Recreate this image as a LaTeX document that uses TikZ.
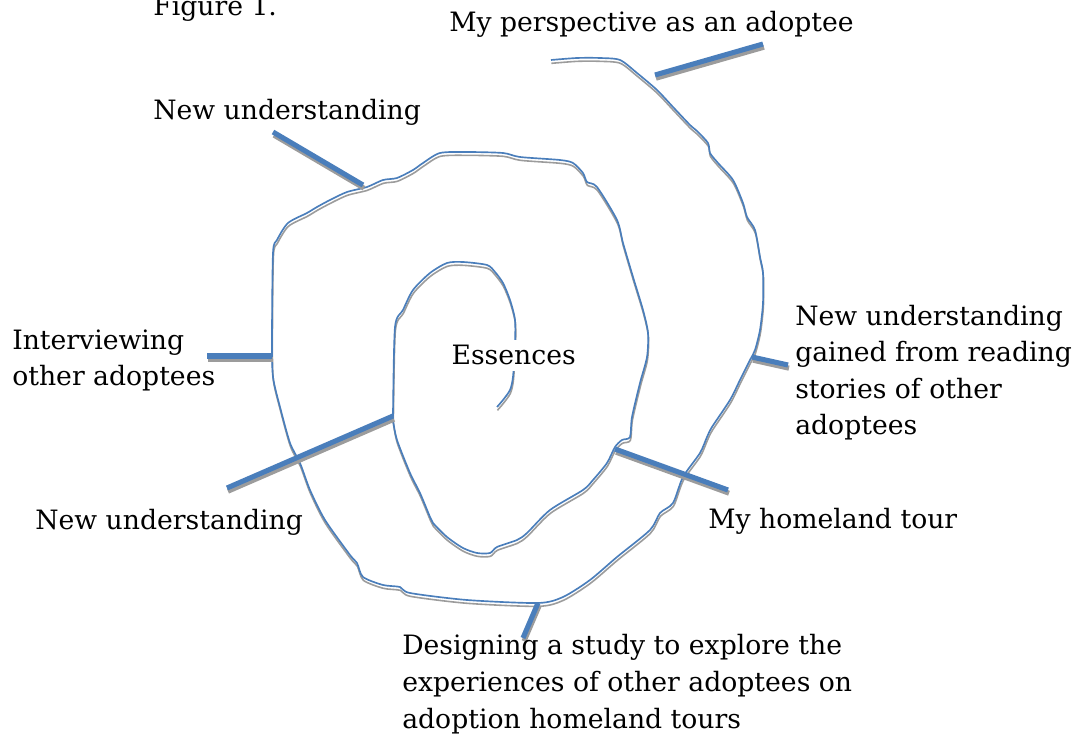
\documentclass[tikz,border=0pt]{standalone}
\usepackage{fontspec}
\setmainfont{DejaVu Serif}
\definecolor{spblue}{HTML}{4A7EBB}
\definecolor{spgray}{HTML}{9C9C9C}
\begin{document}
\begin{tikzpicture}[x=0.75pt,y=-0.75pt,
  lbl/.style={anchor=base west,inner sep=0pt,align=left,font=\fontsize{20}{27.4}\selectfont},
  spiral/.style={draw=spblue,line width=1.25pt,line join=round,
    preaction={draw=spgray,line width=1.2pt,transform canvas={xshift=0.3pt,yshift=-2.5pt}}},
  tick/.style={draw=spblue,line width=3.8pt,
    preaction={draw=spgray,line width=3.8pt,transform canvas={xshift=0.75pt,yshift=-2.4pt}}}]
\useasboundingbox (0,0) rectangle (1076,745);

% spiral
\path[spiral] plot[smooth,tension=0.45] coordinates {
(551,60) (577,58) (600,58) (620,60) (637,73) (657,90) (673,107) (690,125) (697,131) (708,143) (710,153) (718,163) (733,180) (743,203) (747,217) (755,230) (760,257) (763,273) (763,303) (760,330) (755,350) (750,360) (740,380) (730,400) (712,427) (707,437) (700,453) (683,477) (673,503) (660,513) (650,530) (617,557) (590,580) (563,597) (538,603) (467,600) (410,593) (400,587) (383,585) (363,577) (357,563) (350,555) (325,520) (310,490) (300,463) (290,443) (280,407) (273,377) (272,340) (273,253) (277,240) (288,223) (307,213) (317,207) (330,200) (347,192) (367,187) (383,180) (397,178) (413,170) (423,163) (440,153) (467,152) (503,153) (520,157) (560,160) (573,163) (583,173) (587,182) (597,187) (617,220) (623,243) (633,277) (643,310) (648,333) (647,357) (640,383) (632,417) (630,437) (622,440) (615,447) (607,463) (593,480) (583,490) (550,510) (527,533) (517,540) (497,547) (490,553) (477,553) (463,548) (447,537) (433,523) (430,517) (420,493) (410,473) (397,440) (393,420) (393,413) (395,327) (403,310) (413,290) (430,273) (447,263) (463,262) (487,265) (495,272) (503,283) (510,300) (515,320) (515,345) (513,377) (510,390) (503,400) (497,407)};

% centre label
\node[lbl,fill=white,inner sep=4pt] (ess) at (446,365) {Essences};

% tick end points
\coordinate (p1a) at (655,75);  \coordinate (p1b) at (763,44);
\coordinate (p2a) at (273,132); \coordinate (p2b) at (363,185);
\coordinate (p3a) at (207,356); \coordinate (p3b) at (272,356);
\coordinate (p4a) at (227,488); \coordinate (p4b) at (393,416);
\coordinate (p5a) at (752,357); \coordinate (p5b) at (788,365);
\coordinate (p6a) at (615,449); \coordinate (p6b) at (728,490);
\coordinate (p7a) at (538,603); \coordinate (p7b) at (523,638);
\foreach \i in {1,...,7} \path[tick] (p\i a) -- (p\i b);

% labels (multi-line labels are anchored at the baseline of their last line)
\node[lbl] (fig) at (153,16) {Figure 1.};
\node[lbl] (persp) at (449,32) {My perspective as an adoptee};
\node[lbl] (nu1) at (153,120) {New understanding};
\node[lbl] (intv) at (12,386) {Interviewing\\other adoptees};
\node[lbl] (nu2) at (35,530) {New understanding};
\node[lbl] (nu3) at (795,435) {New understanding\\gained from reading\\stories of other\\adoptees};
\node[lbl] (home) at (708,528) {My homeland tour};
\node[lbl] (design) at (402,728) {Designing a study to explore the\\experiences of other adoptees on\\adoption homeland tours};
\end{tikzpicture}
\end{document}
